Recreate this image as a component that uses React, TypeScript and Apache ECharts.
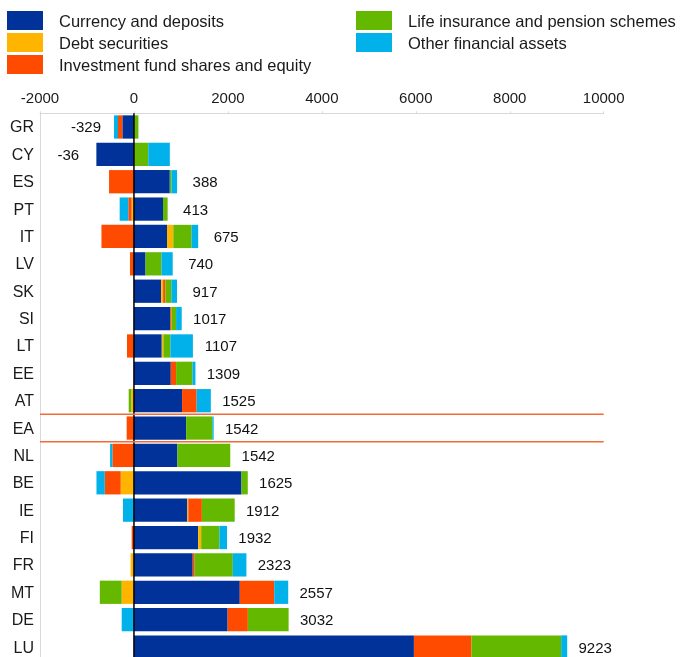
import React, { useEffect, useRef } from "react";
import * as echarts from "echarts";

const categories = ["GR", "CY", "ES", "PT", "IT", "LV", "SK", "SI", "LT", "EE", "AT", "EA", "NL", "BE", "IE", "FI", "FR", "MT", "DE", "LU"];
const currencyDeposits = [-247, -800, 763, 618, 704, 247, 579, 770, 592, 784, 1024, 1111, 925, 2289, 1136, 1367, 1251, 2253, 1994, 5960];
const debtSecurities = [0, 0, 0, -49, 134, 0, 42, 0, 35, 0, -56, 0, 0, -282, 21, 64, -71, -261, 0, 0];
const investmentFund = [-92, 0, -530, -71, -692, -85, 49, 28, -148, 113, 311, -155, -459, -339, 289, -49, 42, 734, 431, 1225];
const lifeInsurance = [95, 305, 35, 99, 388, 339, 127, 99, 148, 348, -56, 558, 1125, 134, 699, 388, 812, -466, 868, 1910];
const otherAssets = [-85, 459, 120, -184, 141, 239, 120, 120, 480, 64, 302, 28, -49, -177, -233, 162, 289, 297, -261, 128];
const totals = [-329, -36, 388, 413, 675, 740, 917, 1017, 1107, 1309, 1525, 1542, 1542, 1625, 1912, 1932, 2323, 2557, 3032, 9223];

const seriesNames = [
  "Currency and deposits",
  "Debt securities",
  "Investment fund shares and equity",
  "Life insurance and pension schemes",
  "Other financial assets",
];
const seriesColors = ["#003299", "#ffb400", "#ff4b00", "#65b800", "#00b1ea"];
const seriesData = [currencyDeposits, debtSecurities, investmentFund, lifeInsurance, otherAssets];

const FONT = '"Liberation Sans", Arial, sans-serif';
const TEXT = "#1a1a1a";

export default function App() {
  const ref = useRef<HTMLDivElement>(null);

  useEffect(() => {
    const chart = echarts.init(ref.current!, null, { renderer: "svg" });

    const posSum = categories.map((_, i) => seriesData.reduce((s, arr) => s + (arr[i] > 0 ? arr[i] : 0), 0));
    const negSum = categories.map((_, i) => seriesData.reduce((s, arr) => s + (arr[i] < 0 ? arr[i] : 0), 0));

    const labelData = categories.map((c, i) => ({
      value: [totals[i] >= 0 ? posSum[i] : negSum[i], c],
      label: { offset: [totals[i] >= 0 ? 28 : -28, 0] },
    }));

    const legendCommon = {
      orient: "vertical",
      top: 11,
      padding: 0,
      itemWidth: 36,
      itemHeight: 19,
      itemGap: 3,
      icon: "rect",
      selectedMode: false,
      textStyle: { fontSize: 16.5, color: TEXT, fontFamily: FONT, padding: [0, 0, 0, 11] },
    };

    const option: any = {
      animation: false,
      textStyle: { fontFamily: FONT },
      legend: [
        { ...legendCommon, left: 7, data: seriesNames.slice(0, 3) },
        { ...legendCommon, left: 356, data: seriesNames.slice(3) },
      ],
      grid: { left: 40, right: 78.3, top: 113.3, bottom: 1.3, containLabel: false },
      xAxis: {
        type: "value",
        position: "top",
        min: -2000,
        max: 10000,
        interval: 2000,
        axisLine: { show: true, lineStyle: { color: "#d9d9d9", width: 1 } },
        axisTick: { show: true, length: 2, lineStyle: { color: "#d9d9d9" } },
        splitLine: { show: false },
        axisLabel: { fontSize: 15, color: TEXT, fontFamily: FONT, margin: 8, formatter: (v: number) => String(v) },
      },
      yAxis: {
        type: "category",
        inverse: true,
        data: categories,
        axisLine: { show: true, onZero: false, lineStyle: { color: "#d9d9d9", width: 1 } },
        axisTick: { show: false },
        splitLine: { show: false },
        axisLabel: { fontSize: 16, color: TEXT, fontFamily: FONT, margin: 6 },
      },
      series: [
        ...seriesNames.map((name, k) => ({
          name,
          type: "bar",
          stack: "total",
          barCategoryGap: "15%",
          itemStyle: { color: seriesColors[k] },
          data: seriesData[k],
        })),
        {
          name: "totals",
          type: "scatter",
          symbolSize: 1,
          itemStyle: { color: "rgba(0,0,0,0)", opacity: 1 },
          z: 10,
          label: {
            show: true,
            position: "inside",
            fontSize: 15,
            color: "#111111",
            fontFamily: FONT,
            formatter: (p: any) => String(totals[p.dataIndex]),
          },
          data: labelData,
        },
      ],
    };

    chart.setOption(option);

    const px = (v: number) => chart.convertToPixel({ xAxisIndex: 0 }, v) as number;
    const py = (c: string) => chart.convertToPixel({ yAxisIndex: 0 }, c) as number;
    const band = py(categories[1]) - py(categories[0]);
    const yTop = py(categories[0]) - band / 2;
    const yBottom = py(categories[categories.length - 1]) + band / 2;
    const eaIdx = categories.indexOf("EA");
    const yEA1 = (py(categories[eaIdx - 1]) + py(categories[eaIdx])) / 2;
    const yEA2 = (py(categories[eaIdx]) + py(categories[eaIdx + 1])) / 2;
    const xL = px(-2000);
    const xR = px(10000);
    const x0 = px(0);

    chart.setOption({
      graphic: [
        {
          type: "line",
          z: 100,
          silent: true,
          shape: { x1: x0, y1: yTop, x2: x0, y2: yBottom },
          style: { stroke: "#000000", lineWidth: 1.5 },
        },
        {
          type: "line",
          z: 100,
          silent: true,
          shape: { x1: xL, y1: yEA1, x2: xR, y2: yEA1 },
          style: { stroke: "#f26a35", lineWidth: 1.5 },
        },
        {
          type: "line",
          z: 100,
          silent: true,
          shape: { x1: xL, y1: yEA2, x2: xR, y2: yEA2 },
          style: { stroke: "#f26a35", lineWidth: 1.5 },
        },
      ],
    });

    return () => chart.dispose();
  }, []);

  return <div ref={ref} style={{ position: "fixed", left: 0, top: 0, width: 682, height: 662 }} />;
}
